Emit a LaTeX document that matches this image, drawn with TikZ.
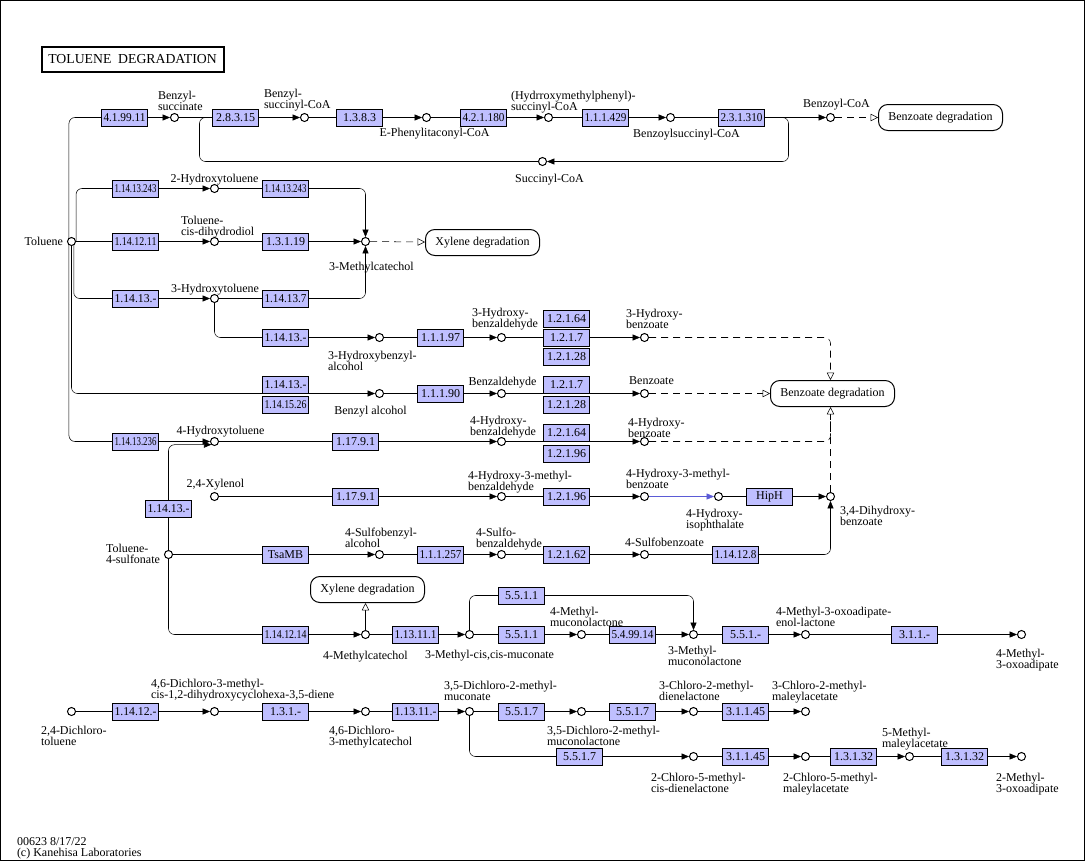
\documentclass[tikz,border=0pt]{standalone}
\usepackage{fontspec}
\setmainfont{Liberation Serif}
\usepackage{graphicx}
\usetikzlibrary{arrows.meta}
\pgfdeclarelayer{bg}
\pgfsetlayers{bg,main}
\definecolor{ecfill}{HTML}{BFBFFF}
\definecolor{bluearr}{HTML}{5B5BD6}
\newcommand\lblfont{\fontsize{9}{8.25}\selectfont\lineskiplimit=-10pt\relax}
\newcommand\ecfont{\fontsize{9}{9}\selectfont}
\newcommand\ectx[1]{\sbox0{#1}\ifdim\wd0>31.5pt\relax\pgfmathsetmacro\ecsc{31.5/\the\wd0}\scalebox{\ecsc}[1]{\usebox0}\else\usebox0\fi}
\newcommand\cpd[2]{\node[cpd] (#1) at (#2) {};}
\newcommand\enz[3]{\node[ec] (#1) at (#2) {\ectx{#3}};}
\begin{document}
\begin{tikzpicture}[x=0.75pt,y=-0.75pt,line width=0.75pt,
  cpd/.style={circle,draw,fill=white,minimum size=6pt,inner sep=0pt},
  ec/.style={draw,fill=ecfill,minimum width=34.5pt,minimum height=12.75pt,inner sep=0pt,font=\ecfont},
  mapbox/.style={draw,fill=white,rounded corners=7pt,minimum height=19.5pt,inner sep=0pt,font=\lblfont},
  lbl/.style={inner sep=0pt,align=left,font=\lblfont},
  arr/.style={-{Triangle[length=5.5pt,width=4.5pt]}},
  oarr/.style={-{Triangle[length=5.5pt,width=5.5pt,fill=white]}},
  dsh/.style={dash pattern=on 5.25pt off 3.75pt},
  rc/.style={rounded corners=4.5pt}]
\useasboundingbox (0,0) rectangle (1085,861);
\draw (0.5,0.5) rectangle (1084.5,860.5);
\begin{scope}[shift={(0.5,0.5)}]
\node[draw,line width=1.5pt,minimum width=136.5pt,minimum height=18.75pt,inner sep=0pt,font=\fontsize{10.3}{12}\selectfont] (title) at (132,58.5) {TOLUENE\ \ DEGRADATION};

% compounds
\cpd{tol}{71,241}
\cpd{bsucc}{174,117}
\cpd{bsc}{304,117}
\cpd{epc}{426,117}
\cpd{hmp}{548,117}
\cpd{bzsc}{670,117}
\cpd{bzcoa}{830,117}
\cpd{succoa}{542,161}
\cpd{hot2}{214,188}
\cpd{tcd}{214,241}
\cpd{mcat}{365,241}
\cpd{hot3}{214,298}
\cpd{hbalc}{379,337}
\cpd{hbald}{501,337}
\cpd{hbz}{644,337}
\cpd{balc}{379,393}
\cpd{bald}{501,393}
\cpd{bz}{644,393}
\cpd{hot4}{214,441}
\cpd{hbald4}{501,441}
\cpd{hbz4}{644,441}
\cpd{xyl}{214,496}
\cpd{hmbald}{501,496}
\cpd{hmbz}{644,496}
\cpd{hip}{718,496}
\cpd{dhb}{830,496}
\cpd{tsulf}{168,554}
\cpd{sbalc}{379,554}
\cpd{sbald}{501,554}
\cpd{sbz}{644,554}
\cpd{mcat4}{365,634}
\cpd{mmuc}{469,634}
\cpd{mml4}{581,634}
\cpd{mml3}{693,634}
\cpd{moel}{805,634}
\cpd{moa}{1021,634}
\cpd{dct}{71,711}
\cpd{dcd}{214,711}
\cpd{dcmc}{365,711}
\cpd{dcm}{469,711}
\cpd{dcml}{581,711}
\cpd{cmd}{693,711}
\cpd{cmma}{805,711}
\cpd{cmcd}{693,756}
\cpd{cmma2}{805,756}
\cpd{mma}{909,756}
\cpd{moa2}{1021,756}

% map boxes
\node[mapbox,minimum width=93pt] (bzdeg1) at (940,117) {Benzoate degradation};
\node[mapbox,minimum width=85.5pt] (xyl1) at (482,242) {Xylene degradation};
\node[mapbox,minimum width=93pt] (bzdeg2) at (832,393) {Benzoate degradation};
\node[mapbox,minimum width=85.5pt] (xyl2) at (367,589) {Xylene degradation};

% enzymes
\enz{e1}{124,117}{4.1.99.11}
\enz{e2}{235,117}{2.8.3.15}
\enz{e3}{359,117}{1.3.8.3}
\enz{e4}{483,117}{4.2.1.180}
\enz{e5}{605,117}{1.1.1.429}
\enz{e6}{741,117}{2.3.1.310}
\enz{e7}{135,188}{1.14.13.243}
\enz{e8}{285,188}{1.14.13.243}
\enz{e9}{135,241}{1.14.12.11}
\enz{e10}{285,241}{1.3.1.19}
\enz{e11}{135,298}{1.14.13.-}
\enz{e12}{285,298}{1.14.13.7}
\enz{e13}{285,337}{1.14.13.-}
\enz{e14}{440,337}{1.1.1.97}
\enz{e15}{566,318}{1.2.1.64}
\enz{e16}{566,337}{1.2.1.7}
\enz{e17}{566,356}{1.2.1.28}
\enz{e18}{285,384}{1.14.13.-}
\enz{e19}{285,404}{1.14.15.26}
\enz{e20}{440,393}{1.1.1.90}
\enz{e21}{566,384}{1.2.1.7}
\enz{e22}{566,404}{1.2.1.28}
\enz{e23}{135,441}{1.14.13.236}
\enz{e24}{355,441}{1.17.9.1}
\enz{e25}{566,432}{1.2.1.64}
\enz{e26}{566,453}{1.2.1.96}
\enz{e27}{355,496}{1.17.9.1}
\enz{e28}{566,496}{1.2.1.96}
\enz{e29}{769,496}{HipH}
\enz{e30}{168,508}{1.14.13.-}
\enz{e31}{285,554}{TsaMB}
\enz{e32}{440,554}{1.1.1.257}
\enz{e33}{566,554}{1.2.1.62}
\enz{e34}{735,554}{1.14.12.8}
\enz{e35}{521,595}{5.5.1.1}
\enz{e36}{285,634}{1.14.12.14}
\enz{e37}{415,634}{1.13.11.1}
\enz{e38}{521,634}{5.5.1.1}
\enz{e39}{632,634}{5.4.99.14}
\enz{e40}{745,634}{5.5.1.-}
\enz{e41}{914,634}{3.1.1.-}
\enz{e42}{135,711}{1.14.12.-}
\enz{e43}{285,711}{1.3.1.-}
\enz{e44}{415,711}{1.13.11.-}
\enz{e45}{521,711}{5.5.1.7}
\enz{e46}{632,711}{5.5.1.7}
\enz{e47}{745,711}{3.1.1.45}
\enz{e48}{579,756}{5.5.1.7}
\enz{e49}{745,756}{3.1.1.45}
\enz{e50}{853,756}{1.3.1.32}
\enz{e51}{964,756}{1.3.1.32}

% labels
\node[lbl,anchor=north west] (l1) at (157,90) {Benzyl-\\succinate};
\node[lbl,anchor=north west] (l2) at (263,88) {Benzyl-\\succinyl-CoA};
\node[lbl,anchor=north] (l3) at (434,127) {E-Phenylitaconyl-CoA};
\node[lbl,anchor=north west] (l4) at (510,90) {(Hydrroxymethylphenyl)-\\succinyl-CoA};
\node[lbl,anchor=north] (l5) at (686,128) {Benzoylsuccinyl-CoA};
\node[lbl,anchor=north] (l6) at (836,98) {Benzoyl-CoA};
\node[lbl,anchor=north] (l7) at (549,173) {Succinyl-CoA};
\node[lbl,anchor=north] (l8) at (214,173) {2-Hydroxytoluene};
\node[lbl,anchor=north west] (l9) at (180,215) {Toluene-\\cis-dihydrodiol};
\node[lbl,anchor=east] (l10) at (63,241) {Toluene};
\node[lbl,anchor=north] (l11) at (371,261) {3-Methylcatechol};
\node[lbl,anchor=north] (l12) at (214.5,283) {3-Hydroxytoluene};
\node[lbl,anchor=north west] (l13) at (327,350) {3-Hydroxybenzyl-\\alcohol};
\node[lbl,anchor=north west] (l14) at (471,307) {3-Hydroxy-\\benzaldehyde};
\node[lbl,anchor=north west] (l15) at (625,308) {3-Hydroxy-\\benzoate};
\node[lbl,anchor=north] (l16) at (370,405) {Benzyl alcohol};
\node[lbl,anchor=north] (l17) at (502,376) {Benzaldehyde};
\node[lbl,anchor=north] (l18) at (651,376) {Benzoate};
\node[lbl,anchor=north] (l19) at (220,425) {4-Hydroxytoluene};
\node[lbl,anchor=north west] (l20) at (469,415) {4-Hydroxy-\\benzaldehyde};
\node[lbl,anchor=north west] (l21) at (627,417) {4-Hydroxy-\\benzoate};
\node[lbl,anchor=north] (l22) at (215,478) {2,4-Xylenol};
\node[lbl,anchor=north west] (l23) at (467,470) {4-Hydroxy-3-methyl-\\benzaldehyde};
\node[lbl,anchor=north west] (l24) at (625,468) {4-Hydroxy-3-methyl-\\benzoate};
\node[lbl,anchor=north west] (l25) at (685,508) {4-Hydroxy-\\isophthalate};
\node[lbl,anchor=north west] (l26) at (839,505) {3,4-Dihydroxy-\\benzoate};
\node[lbl,anchor=north west] (l27) at (105,543) {Toluene-\\4-sulfonate};
\node[lbl,anchor=north west] (l28) at (344,527) {4-Sulfobenzyl-\\alcohol};
\node[lbl,anchor=north west] (l29) at (475,527) {4-Sulfo-\\benzaldehyde};
\node[lbl,anchor=north] (l30) at (664,537) {4-Sulfobenzoate};
\node[lbl,anchor=north] (l31) at (365,650) {4-Methylcatechol};
\node[lbl,anchor=north] (l32) at (489,649) {3-Methyl-cis,cis-muconate};
\node[lbl,anchor=north west] (l33) at (549,606) {4-Methyl-\\muconolactone};
\node[lbl,anchor=north west] (l34) at (667,645) {3-Methyl-\\muconolactone};
\node[lbl,anchor=north west] (l35) at (775,606) {4-Methyl-3-oxoadipate-\\enol-lactone};
\node[lbl,anchor=north west] (l36) at (995,648) {4-Methyl-\\3-oxoadipate};
\node[lbl,anchor=north west] (l37) at (40,725) {2,4-Dichloro-\\toluene};
\node[lbl,anchor=north west] (l38) at (150,678) {4,6-Dichloro-3-methyl-\\cis-1,2-dihydroxycyclohexa-3,5-diene};
\node[lbl,anchor=north west] (l39) at (328,725) {4,6-Dichloro-\\3-methylcatechol};
\node[lbl,anchor=north west] (l40) at (443,680) {3,5-Dichloro-2-methyl-\\muconate};
\node[lbl,anchor=north west] (l41) at (546,725) {3,5-Dichloro-2-methyl-\\muconolactone};
\node[lbl,anchor=north west] (l42) at (658,680) {3-Chloro-2-methyl-\\dienelactone};
\node[lbl,anchor=north west] (l43) at (771,680) {3-Chloro-2-methyl-\\maleylacetate};
\node[lbl,anchor=north west] (l44) at (650,772) {2-Chloro-5-methyl-\\cis-dienelactone};
\node[lbl,anchor=north west] (l45) at (782,772) {2-Chloro-5-methyl-\\maleylacetate};
\node[lbl,anchor=north west] (l46) at (881,727) {5-Methyl-\\maleylacetate};
\node[lbl,anchor=north west] (l47) at (995,772) {2-Methyl-\\3-oxoadipate};
\node[lbl,anchor=north west] (foot) at (16,837) {00623 8/17/22\\(c) Kanehisa Laboratories};

\coordinate (lrc) at (788,161);
\coordinate (llc) at (199,161);

\begin{pgfonlayer}{bg}
% row 117
\draw[rc,arr] ([xshift=-1.9pt]tol.center) |- (bsucc);
\draw[arr] (bsucc) -- (bsc);
\draw[arr] (bsc) -- (epc);
\draw[arr] (epc) -- (hmp);
\draw[arr] (hmp) -- (bzsc);
\draw[arr] (bzsc) -- (bzcoa);
\draw[dsh,oarr] (bzcoa) -- (bzdeg1);
\draw[rc,arr] (e6.east) -| (lrc) -- (succoa);
\draw[rc] (succoa) -- (llc) |- (e2.west);
% row 188 / 241 / 298
\draw[rc,arr] ([xshift=3.4pt]tol.center) |- (hot2);
\draw[rc,arr] (hot2) -| (mcat);
\draw[arr] (tol) -- (tcd);
\draw[arr] (tcd) -- (mcat);
\draw[dsh,oarr] (mcat) -- (xyl1);
\draw[rc,arr] ([xshift=1.7pt]tol.center) |- (hot3);
\draw[rc,arr] (hot3) -| (mcat);
\draw[rc,arr] (hot3) |- (hbalc);
\draw[arr] (hbalc) -- (hbald);
\draw[arr] (hbald) -- (hbz);
\draw[rc,dsh,oarr] (hbz) -| (dhb |- bzdeg2.north);
% row 393
\draw[rc,arr] (tol) |- (balc);
\draw[arr] (balc) -- (bald);
\draw[arr] (bald) -- (bz);
\draw[dsh,oarr] (bz) -- (bzdeg2);
% row 441
\draw[rc,arr] ([xshift=-1.9pt]tol.center) |- (hot4);
\draw[rc,arr] (tsulf) |- (hot4.south west);
\draw[arr] (hot4) -- (hbald4);
\draw[arr] (hbald4) -- (hbz4);
\draw[rc,dsh] (hbz4) -| (dhb |- bzdeg2.south);
% row 496
\draw[arr] (xyl) -- (hmbald);
\draw[arr] (hmbald) -- (hmbz);
\draw[arr,draw=bluearr,fill=bluearr] (hmbz) -- (hip);
\draw[arr] (hip) -- (dhb);
\draw[dsh,oarr] (dhb) -- (dhb |- bzdeg2.south);
% row 554
\draw[arr] (tsulf) -- (sbalc);
\draw[arr] (sbalc) -- (sbald);
\draw[arr] (sbald) -- (sbz);
\draw[rc,arr] (sbz) -| (dhb);
% row 634
\draw[rc,arr] (tsulf) |- (mcat4);
\draw[oarr] (mcat4) -- (mcat4 |- xyl2.south);
\draw[arr] (mcat4) -- (mmuc);
\draw[arr] (mmuc) -- (mml4);
\draw[rc,arr] (mmuc) |- (e35.center) -| (mml3);
\draw[arr] (mml4) -- (mml3);
\draw[arr] (mml3) -- (moel);
\draw[arr] (moel) -- (moa);
% row 711
\draw[arr] (dct) -- (dcd);
\draw[arr] (dcd) -- (dcmc);
\draw[arr] (dcmc) -- (dcm);
\draw[arr] (dcm) -- (dcml);
\draw[arr] (dcml) -- (cmd);
\draw[arr] (cmd) -- (cmma);
% row 756
\draw[rc,arr] (dcm) |- (cmcd);
\draw[arr] (cmcd) -- (cmma2);
\draw[arr] (cmma2) -- (mma);
\draw[arr] (mma) -- (moa2);
\end{pgfonlayer}
\end{scope}
\end{tikzpicture}
\end{document}
